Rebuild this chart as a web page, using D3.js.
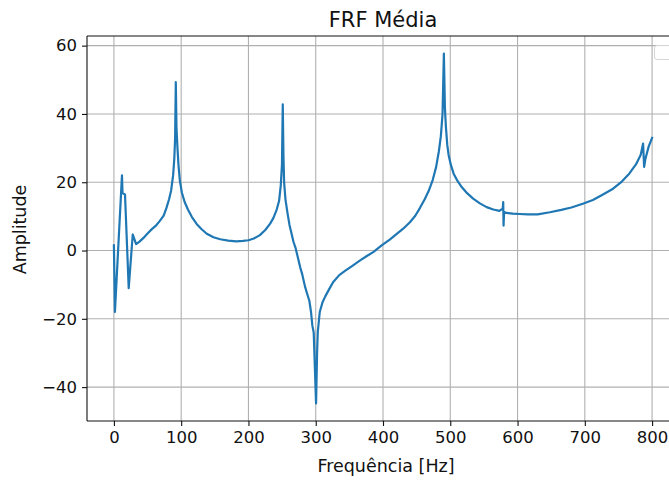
<!DOCTYPE html>
<html>
<head>
<meta charset="utf-8">
<script src="https://cdn.jsdelivr.net/npm/d3@7"></script>
<style>
  html, body { margin: 0; padding: 0; background: #fff; }
  svg { display: block; font-family: "DejaVu Sans", sans-serif; }
</style>
</head>
<body>
<svg id="chart" width="669" height="481"></svg>
<script>
// Average FRF amplitude versus frequency
const freq = [
  0, 1.5, 12, 12.8, 16.5, 22, 28, 33, 38, 44, 50, 56, 62, 68, 74, 78, 82, 85, 88, 89.8, 91, 92,
  93, 94.5, 96, 98, 101, 105, 110, 116, 123, 130, 138, 148, 158, 170, 182, 192, 200, 208, 217,
  225, 232, 237, 242, 245.5, 248, 249.8, 251, 252, 253, 255, 258, 261, 264, 267, 270, 274, 277,
  280, 284, 287, 290.5, 293, 295, 297, 300.5, 302, 303, 306, 310, 314, 320, 326, 335, 344, 355,
  366, 376, 386, 398, 410, 420, 430, 440, 448, 455, 462, 468, 474, 479, 483, 486, 488.5, 490.5,
  492, 493.5, 495.5, 497.5, 501, 505, 511, 517, 525, 534, 544, 554, 564, 573, 578, 578.7, 579.2,
  580, 584, 593, 603, 615, 630, 648, 665, 680, 697, 712, 725, 742, 755, 766, 776, 783, 786.6,
  788.2, 790, 795, 800
];
const amplitude = [
  1.5, -18, 22, 16.8, 16.4, -11, 4.7, 1.9, 2.6, 3.7, 5, 6.2, 7.2, 8.6, 10.2, 12.4, 15, 17.5, 22, 27, 33, 49.3,
  36, 30, 25, 20.5, 17, 14.3, 12, 9.8, 7.8, 6.3, 4.9, 3.9, 3.3, 2.9, 2.7, 2.8, 3, 3.5, 4.5,
  6, 7.8, 9.5, 12, 14.5, 19, 25, 42.8, 28, 20, 15, 11, 7.5, 5, 2.5, 0.8, -2.5, -5,
  -7, -10.5, -12.5, -14.7, -18, -22, -24, -44.8, -30, -24, -18, -15.2, -13.5, -11.3, -9.2, -7.2, -5.9, -4.4,
  -2.9, -1.6, -0.4, 1.5, 3.2, 4.8, 6.4, 8.3, 10.2, 12.5, 15, 17.5, 20.7, 24.5, 29, 33.5, 40, 57.7,
  42, 36.2, 31, 28, 25, 22.5, 20.3, 18.6, 16.8, 15.2, 13.8, 12.7, 12, 11.6, 12.3, 14.2, 7.3,
  11.3, 11, 10.8, 10.7, 10.6, 10.6, 11.2, 11.9, 12.6, 13.7, 14.8, 16.2, 18.1, 20.2, 22.5, 25.2, 28, 31.3,
  24.5, 26.8, 30.5, 33
];
const xTicks = [0, 100, 200, 300, 400, 500, 600, 700, 800];
const yTicks = [-40, -20, 0, 20, 40, 60];

const title = "FRF Média";
const xLabel = "Frequência [Hz]";
const yLabel = "Amplitude";

const data = freq.map((f, i) => ({ f, a: amplitude[i] }));

const svg = d3.select("#chart");
const margin = { left: 87, top: 36, right: 679, bottom: 421 };

// Axis limits padded by 5% of the data span on each side
const fExt = d3.extent(freq), aExt = d3.extent(amplitude);
const fPad = (fExt[1] - fExt[0]) * 0.05, aPad = (aExt[1] - aExt[0]) * 0.05;

const x = d3.scaleLinear().domain([fExt[0] - fPad, fExt[1] + fPad]).range([margin.left, margin.right]);
const y = d3.scaleLinear().domain([aExt[0] - aPad, aExt[1] + aPad]).range([margin.bottom, margin.top]);

svg.append("defs").append("clipPath").attr("id", "plotClip")
  .append("rect")
  .attr("x", margin.left).attr("y", margin.top)
  .attr("width", margin.right - margin.left).attr("height", margin.bottom - margin.top);

// Grid
const grid = svg.append("g").attr("clip-path", "url(#plotClip)");
grid.selectAll("line.vx").data(xTicks).join("line")
  .attr("x1", d => x(d)).attr("x2", d => x(d))
  .attr("y1", margin.top).attr("y2", margin.bottom)
  .attr("stroke", "#b0b0b0").attr("stroke-width", 1.1);
grid.selectAll("line.hy").data(yTicks).join("line")
  .attr("x1", margin.left).attr("x2", margin.right)
  .attr("y1", d => y(d)).attr("y2", d => y(d))
  .attr("stroke", "#b0b0b0").attr("stroke-width", 1.1);

// Curve
const line = d3.line().x(d => x(d.f)).y(d => y(d.a));
svg.append("path")
  .datum(data)
  .attr("clip-path", "url(#plotClip)")
  .attr("fill", "none")
  .attr("stroke", "#1f77b4")
  .attr("stroke-width", 2.2)
  .attr("stroke-linejoin", "round")
  .attr("stroke-linecap", "square")
  .attr("d", line);

// Axes
const xAxis = d3.axisBottom(x).tickValues(xTicks).tickSize(5).tickPadding(5).tickFormat(d3.format("d"));
const yAxis = d3.axisLeft(y).tickValues(yTicks).tickSize(5).tickPadding(5).tickFormat(d3.format("d"));

const gx = svg.append("g").attr("transform", `translate(0,${margin.bottom})`).call(xAxis);
const gy = svg.append("g").attr("transform", `translate(${margin.left},0)`).call(yAxis);
[gx, gy].forEach(g => {
  g.select(".domain").remove();
  g.selectAll(".tick line").attr("stroke", "#111").attr("stroke-width", 1.1);
  g.selectAll(".tick text").attr("fill", "#111").style("font-size", "16.5px")
    .style("font-family", "'DejaVu Sans', sans-serif");
});
gy.selectAll(".tick text").text(d => d < 0 ? "\u2212" + Math.abs(d) : d);

// Spines (the right one lies just beyond the view)
const spine = (x1, y1, x2, y2) => svg.append("line")
  .attr("x1", x1).attr("y1", y1).attr("x2", x2).attr("y2", y2)
  .attr("stroke", "#111").attr("stroke-width", 1.1);
spine(margin.left, margin.top, margin.left, margin.bottom);
spine(margin.left, margin.top, margin.right, margin.top);
spine(margin.left, margin.bottom, margin.right, margin.bottom);
spine(margin.right, margin.top, margin.right, margin.bottom);

// Empty legend frame in the upper right corner
svg.append("rect")
  .attr("x", 654.5).attr("y", 45.5).attr("width", 20).attr("height", 14)
  .attr("rx", 2.5).attr("fill", "#fff").attr("fill-opacity", 0.8)
  .attr("stroke", "#d6d6d6").attr("stroke-width", 1);

// Titles
svg.append("text")
  .attr("x", (margin.left + margin.right) / 2).attr("y", 27)
  .attr("text-anchor", "middle").attr("fill", "#111")
  .style("font-size", "21px").text(title);
svg.append("text")
  .attr("x", (margin.left + margin.right) / 2 + 3).attr("y", 472)
  .attr("text-anchor", "middle").attr("fill", "#111")
  .style("font-size", "17.5px").text(xLabel);
svg.append("text")
  .attr("transform", `translate(26,${(margin.top + margin.bottom) / 2 + 1}) rotate(-90)`)
  .attr("text-anchor", "middle").attr("fill", "#111")
  .style("font-size", "17.5px").text(yLabel);
</script>
</body>
</html>
